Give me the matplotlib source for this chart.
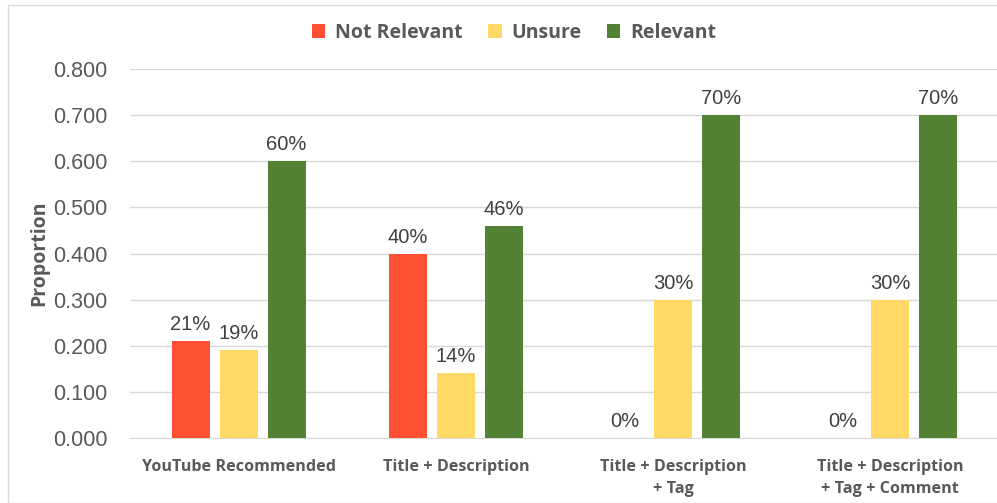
import matplotlib
matplotlib.use("Agg")
import matplotlib.pyplot as plt
import numpy as np
from matplotlib import font_manager
from matplotlib.patches import Rectangle

categories = ["YouTube Recommended", "Title + Description", "Title + Description\n+ Tag", "Title + Description\n+ Tag + Comment"]
series_names = ["Not Relevant", "Unsure", "Relevant"]
not_relevant = [0.21, 0.40, 0.0, 0.0]
unsure = [0.19, 0.14, 0.30, 0.30]
relevant = [0.60, 0.46, 0.70, 0.70]
yticks = [0.0, 0.1, 0.2, 0.3, 0.4, 0.5, 0.6, 0.7, 0.8]

colors = ["#FF5033", "#FFD966", "#548235"]

avail = {f.name for f in font_manager.fontManager.ttflist}
narrow = "Liberation Sans Narrow" if "Liberation Sans Narrow" in avail else "Open Sans"
num_font = "Liberation Sans"

fig = plt.figure(figsize=(9.97, 5.03), dpi=100)
ax = fig.add_axes([130/997, 1-438/503, 1-130/997+0.002, (438-69)/503])

x = np.arange(len(categories))
w = 0.175
step = 0.221
data = [not_relevant, unsure, relevant]
for i, (vals, name, c) in enumerate(zip(data, series_names, colors)):
    pos = x + (i-1)*step
    bars = ax.bar(pos, vals, width=w, color=c, label=name, zorder=3)
    for p, v in zip(pos, vals):
        ax.annotate(f"{v*100:.0f}%", (p, v), xytext=(0, 5), textcoords="offset points",
                    ha="center", va="bottom", fontsize=14.5, color="#404040", family=num_font)

ax.set_xlim(-0.5, 3.5)
ax.set_ylim(0, 0.8)
ax.set_yticks(yticks)
ax.set_yticklabels([f"{t:.3f}" for t in yticks], fontsize=15.5, color="#595959", family=num_font)
ax.tick_params(axis="y", length=0, pad=16)
ax.set_xticks(x)
ax.set_xticklabels(categories, fontsize=11.6, color="#595959", family=narrow, fontweight="bold", linespacing=1.5)
ax.tick_params(axis="x", length=0, pad=15)
ax.grid(axis="y", color="#d9d9d9", lw=1, zorder=0)
for s in ["top", "right", "left"]:
    ax.spines[s].set_visible(False)
ax.spines["bottom"].set_color("#d9d9d9")
ax.set_ylabel("Proportion", fontsize=14, fontweight="bold", color="#595959", family="Open Sans")
ax.yaxis.set_label_coords(-81/867, 0.5)

leg = fig.legend(loc="center", bbox_to_anchor=(514/997, 1-33/503), ncol=3, frameon=False,
                 handlelength=0.7, handleheight=0.7, handletextpad=0.5, columnspacing=1.3,
                 prop={"family": "Open Sans", "weight": "bold", "size": 14})
for t in leg.get_texts():
    t.set_color("#595959")

fig.patches.append(Rectangle((8/997, 0), 1, 1-5/503, transform=fig.transFigure,
                             fill=False, edgecolor="#d9d9d9", lw=1))

fig.savefig("out.png", dpi=100)
